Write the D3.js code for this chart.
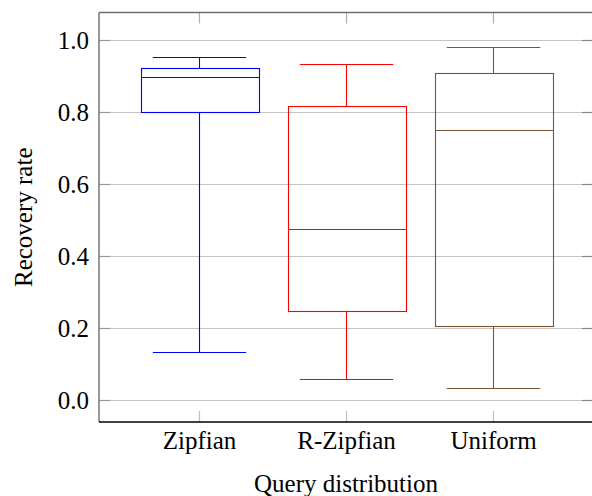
<!DOCTYPE html>
<html>
<head>
<meta charset="utf-8">
<script src="https://cdn.jsdelivr.net/npm/d3@7"></script>
<style>
  html, body { margin: 0; padding: 0; background: #fff; }
  svg { display: block; }
</style>
</head>
<body>
<svg id="chart" width="592" height="496"></svg>
<script>
// Recovery-rate box plots per query distribution
const categories = ["Zipfian", "R-Zipfian", "Uniform"];
const lowerWhisker = [0.133, 0.059, 0.033];
const lowerQuartile = [0.799, 0.246, 0.205];
const median = [0.897, 0.475, 0.750];
const upperQuartile = [0.921, 0.816, 0.907];
const upperWhisker = [0.954, 0.934, 0.981];
const colors = ["#0000ff", "#ff0000", "#7f5531"];
const yTicks = [0, 0.2, 0.4, 0.6, 0.8, 1.0];

const FONT = '"Liberation Serif"';
const FONT_SIZE = "25px";

const svg = d3.select("#chart");
const plotLeft = 99, plotRight = 593, plotTop = 12.5, plotBottom = 422;

const x = d3.scaleLinear().domain([0.3197, 3.68]).range([plotLeft, plotRight]);
const y = d3.scaleLinear().domain([-0.0611, 1.0764]).range([plotBottom, plotTop]);

const boxHalf = 58.8, capHalf = 46.7;
const snap = v => Math.round(v) + 0.5;
const styleText = sel => sel.style("font-family", FONT).style("font-size", FONT_SIZE).attr("fill", "#000");

// grid
svg.append("g").selectAll("line").data(yTicks).join("line")
  .attr("x1", plotLeft).attr("x2", plotRight)
  .attr("y1", d => snap(y(d))).attr("y2", d => snap(y(d)))
  .attr("stroke", "#c4c4c4").attr("stroke-width", 1);

// tick labels via d3.axis
const yAxis = d3.axisLeft(y).tickValues(yTicks).tickFormat(d3.format(".1f")).tickSize(0).tickPadding(10);
svg.append("g").attr("transform", `translate(${plotLeft},0)`).call(yAxis)
  .call(g => g.select(".domain").remove())
  .call(g => g.attr("font-family", null))
  .call(g => styleText(g.selectAll("text")));

const xAxis = d3.axisBottom(x).tickValues([1, 2, 3]).tickFormat((d, i) => categories[i]).tickSize(0).tickPadding(9);
svg.append("g").attr("transform", `translate(0,${plotBottom})`).call(xAxis)
  .call(g => g.select(".domain").remove())
  .call(g => g.attr("font-family", null))
  .call(g => styleText(g.selectAll("text")));

// inner tick marks
const tickG = svg.append("g").attr("stroke-width", 1.2);
yTicks.forEach(d => {
  const yy = snap(y(d));
  tickG.append("line").attr("x1", plotLeft).attr("x2", plotLeft + 11).attr("y1", yy).attr("y2", yy).attr("stroke", "#999");
  tickG.append("line").attr("x1", plotRight - 11).attr("x2", plotRight).attr("y1", yy).attr("y2", yy).attr("stroke", "#888");
});
[1, 2, 3].forEach(d => {
  const xx = snap(x(d));
  tickG.append("line").attr("x1", xx).attr("x2", xx).attr("y1", plotBottom).attr("y2", plotBottom - 11).attr("stroke", "#c0c0c0");
  tickG.append("line").attr("x1", xx).attr("x2", xx).attr("y1", plotTop).attr("y2", plotTop + 11).attr("stroke", "#b0b0b0");
});

// frame
svg.append("line").attr("x1", plotLeft).attr("x2", plotRight).attr("y1", plotTop).attr("y2", plotTop).attr("stroke", "#6e6e6e").attr("stroke-width", 1.4);
svg.append("line").attr("x1", plotLeft).attr("x2", plotLeft).attr("y1", plotTop).attr("y2", plotBottom).attr("stroke", "#6e6e6e").attr("stroke-width", 1.4);
svg.append("line").attr("x1", plotRight).attr("x2", plotRight).attr("y1", plotTop).attr("y2", plotBottom).attr("stroke", "#6e6e6e").attr("stroke-width", 1.4);
svg.append("line").attr("x1", plotLeft).attr("x2", plotRight).attr("y1", plotBottom).attr("y2", plotBottom).attr("stroke", "#000").attr("stroke-width", 1.4);

// boxes
const boxes = svg.append("g").attr("fill", "none").attr("stroke-width", 1.1);
categories.forEach((c, i) => {
  const cx = snap(x(i + 1));
  const g = boxes.append("g").attr("stroke", colors[i]);
  // whiskers
  g.append("line").attr("x1", cx).attr("x2", cx).attr("y1", snap(y(upperQuartile[i]))).attr("y2", snap(y(upperWhisker[i])));
  g.append("line").attr("x1", cx).attr("x2", cx).attr("y1", snap(y(lowerQuartile[i]))).attr("y2", snap(y(lowerWhisker[i])));
  g.append("line").attr("x1", cx - capHalf).attr("x2", cx + capHalf).attr("y1", snap(y(upperWhisker[i]))).attr("y2", snap(y(upperWhisker[i])));
  g.append("line").attr("x1", cx - capHalf).attr("x2", cx + capHalf).attr("y1", snap(y(lowerWhisker[i]))).attr("y2", snap(y(lowerWhisker[i])));
  // box and median
  const yt = snap(y(upperQuartile[i])), yb = snap(y(lowerQuartile[i]));
  const bx = snap(cx - boxHalf), bw = Math.round(2 * boxHalf);
  g.append("rect").attr("x", bx).attr("y", yt).attr("width", bw).attr("height", yb - yt).attr("fill", "none");
  g.append("line").attr("x1", bx).attr("x2", bx + bw)
    .attr("y1", snap(y(median[i]))).attr("y2", snap(y(median[i])));
});

// axis titles
styleText(svg.append("text").attr("x", (plotLeft + plotRight) / 2).attr("y", 492).attr("text-anchor", "middle"))
  .text("Query distribution");
styleText(svg.append("text").attr("transform", `translate(31.5,${(plotTop + plotBottom) / 2}) rotate(-90)`)
  .attr("text-anchor", "middle"))
  .text("Recovery rate");
</script>
</body>
</html>
